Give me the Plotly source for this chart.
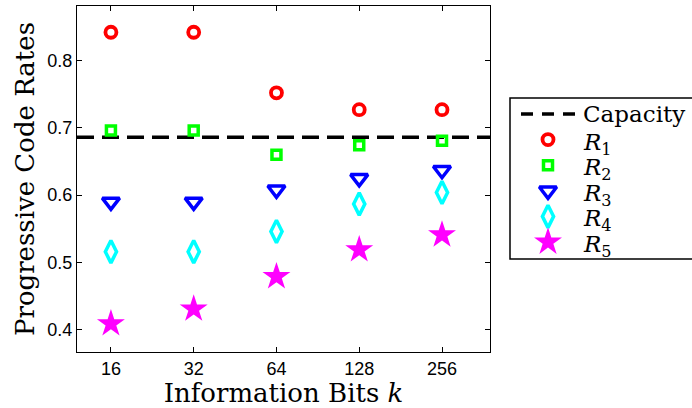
import plotly.graph_objects as go

# Information bits k and the progressive code rates R1..R5
k_labels = ["16", "32", "64", "128", "256"]
R1 = [0.842, 0.842, 0.752, 0.727, 0.727]
R2 = [0.696, 0.696, 0.660, 0.674, 0.681]
R3 = [0.590, 0.590, 0.608, 0.625, 0.637]
R4 = [0.516, 0.516, 0.546, 0.587, 0.604]
R5 = [0.409, 0.431, 0.479, 0.519, 0.541]
capacity = 0.686

series_names = ["R1", "R2", "R3", "R4", "R5"]
series_values = [R1, R2, R3, R4, R5]

W, H = 692, 408
x_idx = list(range(len(k_labels)))
x_range = [-0.41, 4.58]
y_range = [0.367, 0.881]

serif = "DejaVu Serif"
sans = "Liberation Sans"

# symbol, colour, size, outline width for each rate
styles = [
    ("circle-open", "#ff0000", 11, 3.8),
    ("square-open", "#00ff00", 9, 3.5),
    ("triangle-down-open", "#0000ff", 15, 3.5),
    ("diamond-tall-open", "#00ffff", 16, 3.5),
    ("star", "#ff00ff", 21, 0),
]

# plot box in pixels (left, right, top, bottom)
box_l, box_r, box_t, box_b = 77, 490, 6, 352

fig = go.Figure()

fig.add_trace(go.Scatter(
    x=x_range, y=[capacity, capacity], mode="lines",
    line=dict(color="black", width=3.5, dash="17px,8px"),
    showlegend=False, hoverinfo="skip",
))
for name, vals, (sym, col, size, lw) in zip(series_names, series_values, styles):
    fig.add_trace(go.Scatter(
        x=x_idx, y=vals, mode="markers", name=name, showlegend=False,
        marker=dict(symbol=sym, size=size, color=col,
                    line=dict(color=col, width=lw)),
    ))

# ---- legend panel drawn on a pixel-based overlay axis ----
leg_l, leg_t, leg_b = 510, 98, 259
row0, row_gap = 114, 25.6
key_x, text_x = 548, 581

fig.add_shape(type="rect", xref="x2", yref="y2",
              x0=leg_l, x1=W + 5, y0=leg_t, y1=leg_b,
              line=dict(color="black", width=1.5), fillcolor="white",
              layer="below")
fig.add_trace(go.Scatter(
    x=[521, 577], y=[row0, row0], mode="lines", xaxis="x2", yaxis="y2",
    line=dict(color="black", width=3.5, dash="12px,9px"),
    showlegend=False, hoverinfo="skip",
))
fig.add_annotation(x=text_x, y=row0, xref="x2", yref="y2", text="Capacity",
                   showarrow=False, xanchor="left", yanchor="middle",
                   font=dict(family=serif, size=23, color="black"))
for i, (name, (sym, col, size, lw)) in enumerate(zip(series_names, styles)):
    ry = row0 + (i + 1) * row_gap
    fig.add_trace(go.Scatter(
        x=[key_x], y=[ry], mode="markers", xaxis="x2", yaxis="y2",
        marker=dict(symbol=sym, size=size, color=col,
                    line=dict(color=col, width=lw)),
        showlegend=False, hoverinfo="skip",
    ))
    fig.add_annotation(x=text_x, y=ry + 4, xref="x2", yref="y2",
                       text=f"<i>{name[0]}</i><sub>{name[1:]}</sub>",
                       showarrow=False, xanchor="left", yanchor="middle",
                       font=dict(family=serif, size=23, color="black"))

axis_common = dict(
    showline=True, linecolor="black", linewidth=1.2, mirror="ticks",
    ticks="inside", ticklen=5, tickcolor="black", showgrid=False,
    zeroline=False, automargin=False,
    tickfont=dict(family=sans, size=18, color="black"),
)

fig.update_layout(
    width=W, height=H,
    margin=dict(l=0, r=0, t=0, b=0),
    paper_bgcolor="white", plot_bgcolor="rgba(0,0,0,0)",
    showlegend=False,
    xaxis=dict(domain=[box_l / W, box_r / W], range=x_range,
               tickvals=x_idx, ticktext=k_labels,
               title=dict(text="Information Bits <i>k</i>",
                          font=dict(family=serif, size=26, color="black"),
                          standoff=3),
               **axis_common),
    yaxis=dict(domain=[1 - box_b / H, 1 - box_t / H], range=y_range,
               tickvals=[0.4, 0.5, 0.6, 0.7, 0.8],
               ticktext=["0.4", "0.5", "0.6", "0.7", "0.8"],
               title=dict(text="Progressive Code Rates",
                          font=dict(family=serif, size=26, color="black"),
                          standoff=5),
               **axis_common),
    xaxis2=dict(domain=[0, 1], range=[0, W], visible=False,
                anchor="y2", fixedrange=True),
    yaxis2=dict(domain=[0, 1], range=[H, 0], visible=False,
                anchor="x2", fixedrange=True),
)

fig.write_html("out.html")
